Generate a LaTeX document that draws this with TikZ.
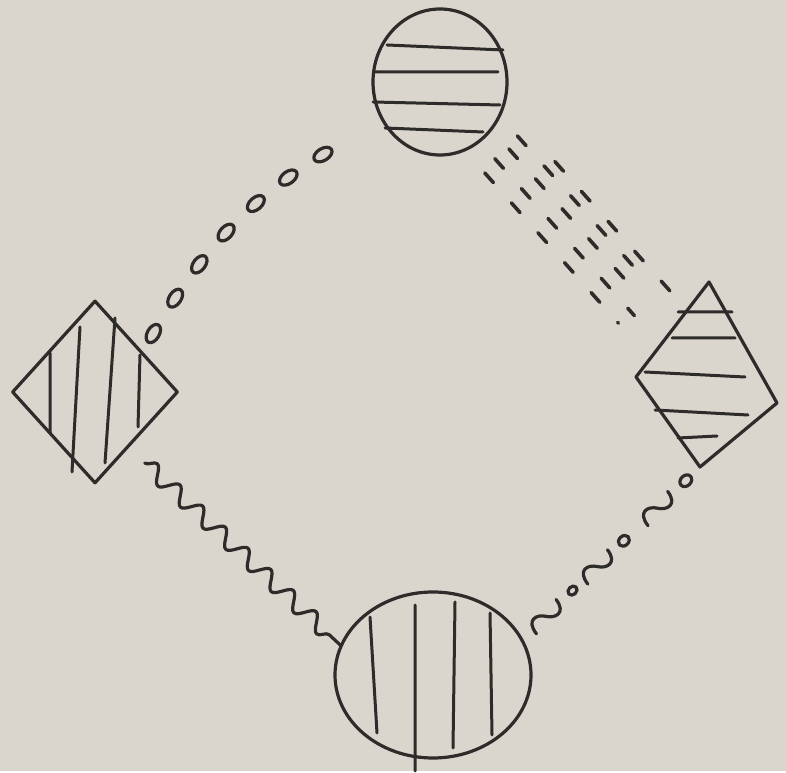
\documentclass[tikz,border=0pt]{standalone}
\usetikzlibrary{shapes.geometric, decorations.pathmorphing, decorations.markings}
\definecolor{paper}{HTML}{DBD6CD}
\definecolor{ink}{HTML}{2E2B2B}
\newcommand\squiggle{\draw (-19,-6) .. controls (-17,12) and (-5,8) .. (0,0)
  .. controls (5,-8) and (17,-12) .. (19,5);}
\newcommand\bubble[1]{\draw (0,0) ellipse (#1 and .8*#1);}

\begin{document}
\begin{tikzpicture}[x = 1pt, y = 1pt, color = ink, line width = 3.2pt,
    line cap = round, line join = round,
    blob/.style = {draw, ellipse, inner sep = 0pt},
    kite/.style = {draw, diamond, inner sep = 0pt},
    hatch/.style = {line width = 3pt},
    dashline/.style = {line width = 3.6pt, dash pattern = on 13pt off 27pt},
    wavy/.style = {decorate, decoration = {snake, segment length = 31pt,
      amplitude = 8pt, pre = moveto, pre length = 22pt}},
    beads/.style = {decorate, decoration = {markings, mark = between positions
      .2 and .95 step .123 with {\draw (0,0) ellipse (10 and 6);}}}]
  \fill [paper] (0,0) rectangle (786,771);
  \node [blob, minimum width = 134pt, minimum height = 146pt] (top) at (440,689) {};
  \node [blob, minimum width = 196pt, minimum height = 166pt] (bot) at (433,96) {};
  \node [kite, minimum width = 166pt, minimum height = 183pt] (lft) at (95,379) {};
  \draw (709,489) coordinate (rgt-n) -- (777,368) coordinate (rgt-e)
    -- (700,304) coordinate (rgt-s) -- (636,394) coordinate (rgt-w) -- cycle;
  \coordinate (rgt) at (705,391);
  \draw [hatch, shift = {(top)}] (-53,37) -- (63,32) (-65,10) -- (58,10)
    (-67,-20) -- (60,-23) (-55,-46) -- (43,-50);
  \draw [hatch, shift = {(bot)}] (-63,58) -- (-56,-58) (-18,70) -- (-18,-96)
    (22,73) -- (20,-73) (57,62) -- (59,-60);
  \draw [hatch, shift = {(lft)}] (-45,39) -- (-45,-41) (-15,65) -- (-23,-80)
    (20,74) -- (10,-71) (45,37) -- (43,-35);
  \draw [hatch, shift = {(rgt)}] (-27,68) -- (27,68) (-33,42) -- (30,42)
    (-60,8) -- (40,3) (-50,-30) -- (43,-35) (-27,-58) -- (12,-56);
  \foreach \o/\a/\b in {-27/26/100, -10/22/95, 7/24/118, 22/20/112, 33/64/85}
    \draw [dashline, shorten < = \a pt, shorten > = \b pt,
      transform canvas = {shift = {(.747*\o, .664*\o)}}] (top) -- (rgt);
  \path [beads] (top.215) to [out = 206, in = 61] (lft.40);
  \draw [wavy] (lft.-59) -- (bot.162);
  \path [decorate, decoration = {markings,
      mark = at position .13 with {\squiggle},
      mark = at position .28 with {\bubble{5}},
      mark = at position .42 with {\squiggle},
      mark = at position .57 with {\bubble{6}},
      mark = at position .76 with {\squiggle},
      mark = at position .92 with {\bubble{6.5}}}] (bot.22) -- (rgt-s);
\end{tikzpicture}
\end{document}
